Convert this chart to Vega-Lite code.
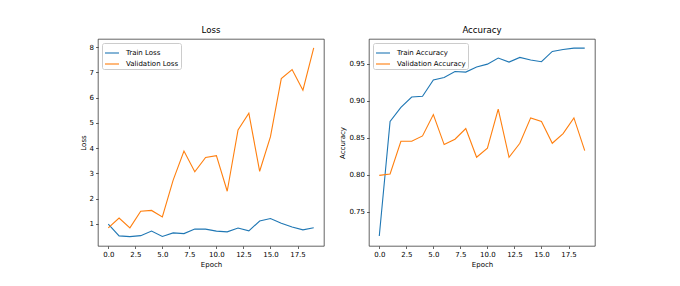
{
  "$schema": "https://vega.github.io/schema/vega-lite/v6.json",
  "padding": {"left": 78, "top": 26, "right": 5, "bottom": 5},
  "background": "white",
  "spacing": 13,
  "datasets": {
    "loss": [
      {"epoch": 0, "series": "Train Loss", "value": 0.99},
      {"epoch": 1, "series": "Train Loss", "value": 0.52},
      {"epoch": 2, "series": "Train Loss", "value": 0.49},
      {"epoch": 3, "series": "Train Loss", "value": 0.53},
      {"epoch": 4, "series": "Train Loss", "value": 0.71},
      {"epoch": 5, "series": "Train Loss", "value": 0.50},
      {"epoch": 6, "series": "Train Loss", "value": 0.64},
      {"epoch": 7, "series": "Train Loss", "value": 0.61},
      {"epoch": 8, "series": "Train Loss", "value": 0.79},
      {"epoch": 9, "series": "Train Loss", "value": 0.79},
      {"epoch": 10, "series": "Train Loss", "value": 0.71},
      {"epoch": 11, "series": "Train Loss", "value": 0.68},
      {"epoch": 12, "series": "Train Loss", "value": 0.83},
      {"epoch": 13, "series": "Train Loss", "value": 0.72},
      {"epoch": 14, "series": "Train Loss", "value": 1.11},
      {"epoch": 15, "series": "Train Loss", "value": 1.21},
      {"epoch": 16, "series": "Train Loss", "value": 1.02},
      {"epoch": 17, "series": "Train Loss", "value": 0.87},
      {"epoch": 18, "series": "Train Loss", "value": 0.76},
      {"epoch": 19, "series": "Train Loss", "value": 0.84},
      {"epoch": 0, "series": "Validation Loss", "value": 0.84},
      {"epoch": 1, "series": "Validation Loss", "value": 1.23},
      {"epoch": 2, "series": "Validation Loss", "value": 0.84},
      {"epoch": 3, "series": "Validation Loss", "value": 1.50},
      {"epoch": 4, "series": "Validation Loss", "value": 1.53},
      {"epoch": 5, "series": "Validation Loss", "value": 1.27},
      {"epoch": 6, "series": "Validation Loss", "value": 2.73},
      {"epoch": 7, "series": "Validation Loss", "value": 3.88},
      {"epoch": 8, "series": "Validation Loss", "value": 3.06},
      {"epoch": 9, "series": "Validation Loss", "value": 3.63},
      {"epoch": 10, "series": "Validation Loss", "value": 3.70},
      {"epoch": 11, "series": "Validation Loss", "value": 2.29},
      {"epoch": 12, "series": "Validation Loss", "value": 4.72},
      {"epoch": 13, "series": "Validation Loss", "value": 5.38},
      {"epoch": 14, "series": "Validation Loss", "value": 3.08},
      {"epoch": 15, "series": "Validation Loss", "value": 4.45},
      {"epoch": 16, "series": "Validation Loss", "value": 6.75},
      {"epoch": 17, "series": "Validation Loss", "value": 7.11},
      {"epoch": 18, "series": "Validation Loss", "value": 6.29},
      {"epoch": 19, "series": "Validation Loss", "value": 7.97}
    ],
    "acc": [
      {"epoch": 0, "series": "Train Accuracy", "value": 0.717},
      {"epoch": 1, "series": "Train Accuracy", "value": 0.872},
      {"epoch": 2, "series": "Train Accuracy", "value": 0.891},
      {"epoch": 3, "series": "Train Accuracy", "value": 0.905},
      {"epoch": 4, "series": "Train Accuracy", "value": 0.906},
      {"epoch": 5, "series": "Train Accuracy", "value": 0.928},
      {"epoch": 6, "series": "Train Accuracy", "value": 0.9315},
      {"epoch": 7, "series": "Train Accuracy", "value": 0.9396},
      {"epoch": 8, "series": "Train Accuracy", "value": 0.9387},
      {"epoch": 9, "series": "Train Accuracy", "value": 0.9455},
      {"epoch": 10, "series": "Train Accuracy", "value": 0.9495},
      {"epoch": 11, "series": "Train Accuracy", "value": 0.9577},
      {"epoch": 12, "series": "Train Accuracy", "value": 0.9523},
      {"epoch": 13, "series": "Train Accuracy", "value": 0.9586},
      {"epoch": 14, "series": "Train Accuracy", "value": 0.955},
      {"epoch": 15, "series": "Train Accuracy", "value": 0.9527},
      {"epoch": 16, "series": "Train Accuracy", "value": 0.9667},
      {"epoch": 17, "series": "Train Accuracy", "value": 0.9694},
      {"epoch": 18, "series": "Train Accuracy", "value": 0.9712},
      {"epoch": 19, "series": "Train Accuracy", "value": 0.9712},
      {"epoch": 0, "series": "Validation Accuracy", "value": 0.799},
      {"epoch": 1, "series": "Validation Accuracy", "value": 0.801},
      {"epoch": 2, "series": "Validation Accuracy", "value": 0.8452},
      {"epoch": 3, "series": "Validation Accuracy", "value": 0.8452},
      {"epoch": 4, "series": "Validation Accuracy", "value": 0.8524},
      {"epoch": 5, "series": "Validation Accuracy", "value": 0.8813},
      {"epoch": 6, "series": "Validation Accuracy", "value": 0.8407},
      {"epoch": 7, "series": "Validation Accuracy", "value": 0.848},
      {"epoch": 8, "series": "Validation Accuracy", "value": 0.8624},
      {"epoch": 9, "series": "Validation Accuracy", "value": 0.8235},
      {"epoch": 10, "series": "Validation Accuracy", "value": 0.8357},
      {"epoch": 11, "series": "Validation Accuracy", "value": 0.8886},
      {"epoch": 12, "series": "Validation Accuracy", "value": 0.8235},
      {"epoch": 13, "series": "Validation Accuracy", "value": 0.8425},
      {"epoch": 14, "series": "Validation Accuracy", "value": 0.8768},
      {"epoch": 15, "series": "Validation Accuracy", "value": 0.8719},
      {"epoch": 16, "series": "Validation Accuracy", "value": 0.8425},
      {"epoch": 17, "series": "Validation Accuracy", "value": 0.8556},
      {"epoch": 18, "series": "Validation Accuracy", "value": 0.8768},
      {"epoch": 19, "series": "Validation Accuracy", "value": 0.8326}
    ]
  },
  "resolve": {"scale": {"color": "independent", "y": "independent"}, "legend": {"color": "independent"}},
  "hconcat": [
    {
      "width": 226,
      "height": 207,
      "title": "Loss",
      "data": {"name": "loss"},
      "mark": {"type": "line", "strokeWidth": 1.1},
      "encoding": {
        "x": {"field": "epoch", "type": "quantitative", "title": "Epoch",
              "scale": {"domain": [-0.95, 19.95], "nice": false, "zero": false},
              "axis": {"values": [0, 2.5, 5, 7.5, 10, 12.5, 15, 17.5], "format": ".1f"}},
        "y": {"field": "value", "type": "quantitative", "title": "Loss",
              "scale": {"domain": [0.12, 8.32], "nice": false, "zero": false},
              "axis": {"values": [1, 2, 3, 4, 5, 6, 7, 8], "format": "d"}},
        "color": {"field": "series", "type": "nominal", "title": null,
                  "scale": {"domain": ["Train Loss", "Validation Loss"], "range": ["#1f77b4", "#ff7f0e"]}}
      }
    },
    {
      "width": 226,
      "height": 207,
      "title": "Accuracy",
      "data": {"name": "acc"},
      "mark": {"type": "line", "strokeWidth": 1.1},
      "encoding": {
        "x": {"field": "epoch", "type": "quantitative", "title": "Epoch",
              "scale": {"domain": [-0.95, 19.95], "nice": false, "zero": false},
              "axis": {"values": [0, 2.5, 5, 7.5, 10, 12.5, 15, 17.5], "format": ".1f"}},
        "y": {"field": "value", "type": "quantitative", "title": "Accuracy",
              "scale": {"domain": [0.7035, 0.9835], "nice": false, "zero": false},
              "axis": {"values": [0.75, 0.8, 0.85, 0.9, 0.95], "format": ".2f"}},
        "color": {"field": "series", "type": "nominal", "title": null,
                  "scale": {"domain": ["Train Accuracy", "Validation Accuracy"], "range": ["#1f77b4", "#ff7f0e"]}}
      }
    }
  ],
  "config": {
    "font": "DejaVu Sans",
    "view": {"stroke": "#222", "strokeWidth": 0.7},
    "title": {"fontSize": 8.6, "font": "DejaVu Sans", "fontWeight": "normal", "color": "#000", "offset": 4},
    "axis": {
      "grid": false, "domain": false,
      "labelFont": "DejaVu Sans", "labelFontSize": 7, "labelColor": "#000", "labelPadding": 2,
      "titleFont": "DejaVu Sans", "titleFontSize": 7, "titleFontWeight": "normal", "titleColor": "#000",
      "tickColor": "#000", "tickSize": 2.5, "tickWidth": 0.6, "titlePadding": 3
    },
    "legend": {
      "orient": "top-left", "offset": 4,
      "labelFont": "DejaVu Sans", "labelFontSize": 7, "labelColor": "#000",
      "symbolType": "stroke", "symbolSize": 196, "symbolStrokeWidth": 1.1,
      "strokeColor": "#ccc", "fillColor": "white", "cornerRadius": 2, "padding": 2,
      "labelOffset": 6, "rowPadding": -3
    }
  }
}
